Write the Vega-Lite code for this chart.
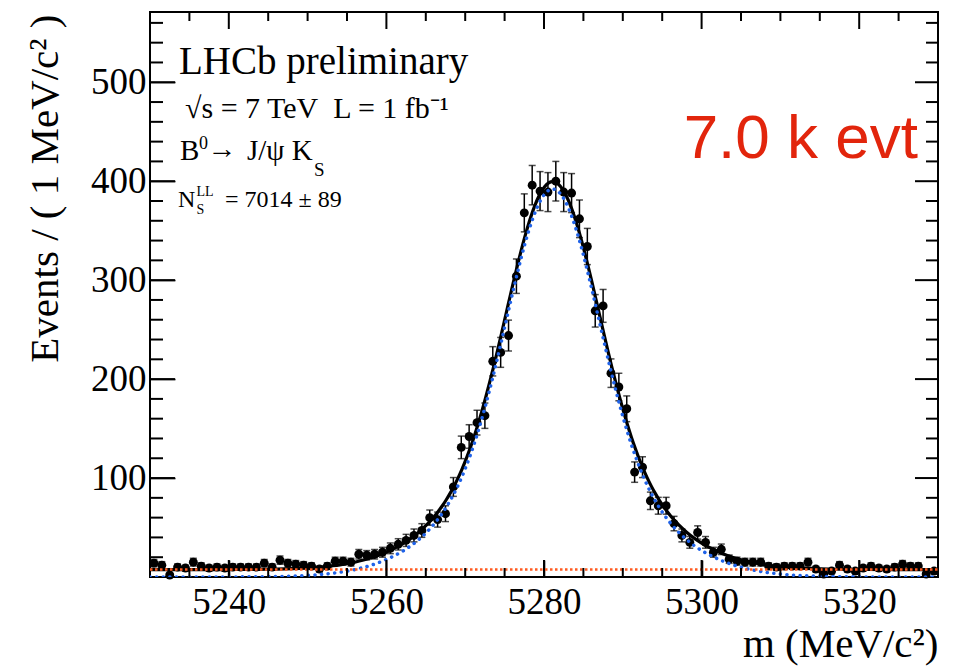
{
  "$schema": "https://vega.github.io/schema/vega-lite/v6.json",
  "width": 788,
  "height": 565,
  "autosize": {"type": "none"},
  "padding": {"left": 150, "top": 12, "right": 15, "bottom": 92},
  "background": "white",
  "config": {
    "view": {"stroke": "black", "strokeWidth": 2},
    "axis": {"ticks": true, "tickColor": "black", "tickOpacity": 1, "tickWidth": 1.6, "domain": false, "grid": false, "zindex": 2}
  },
  "resolve": {"axis": {"x": "independent", "y": "independent"}},
  "datasets": {
    "bins": [
      {"m":5230.5,"n":14,"e":3.7},{"m":5231.5,"n":12,"e":3.5},{"m":5232.5,"n":2,"e":1.4},{"m":5233.5,"n":10,"e":3.2},
      {"m":5234.5,"n":9,"e":3.0},{"m":5235.5,"n":15,"e":3.9},{"m":5236.5,"n":11,"e":3.3},{"m":5237.5,"n":9,"e":3.0},
      {"m":5238.5,"n":10,"e":3.2},{"m":5239.5,"n":9,"e":3.0},{"m":5240.5,"n":10,"e":3.2},{"m":5241.5,"n":10,"e":3.2},
      {"m":5242.5,"n":10,"e":3.2},{"m":5243.5,"n":10,"e":3.2},{"m":5244.5,"n":14,"e":3.7},{"m":5245.5,"n":10,"e":3.2},
      {"m":5246.5,"n":17,"e":4.1},{"m":5247.5,"n":14,"e":3.7},{"m":5248.5,"n":13,"e":3.6},{"m":5249.5,"n":12,"e":3.5},
      {"m":5250.5,"n":11,"e":3.3},{"m":5251.5,"n":8,"e":2.8},{"m":5252.5,"n":11,"e":3.3},{"m":5253.5,"n":16,"e":4.0},
      {"m":5254.5,"n":16,"e":4.0},{"m":5255.5,"n":15,"e":3.9},{"m":5256.5,"n":23,"e":4.8},{"m":5257.5,"n":22,"e":4.7},
      {"m":5258.5,"n":23,"e":4.8},{"m":5259.5,"n":25,"e":5.0},{"m":5260.5,"n":29,"e":5.4},{"m":5261.5,"n":33,"e":5.7},
      {"m":5262.5,"n":37,"e":6.1},{"m":5263.5,"n":42,"e":6.5},{"m":5264.5,"n":47,"e":6.9},{"m":5265.5,"n":60,"e":7.7},
      {"m":5266.5,"n":58,"e":7.6},{"m":5267.5,"n":64,"e":8.0},{"m":5268.5,"n":91,"e":9.5},{"m":5269.5,"n":131,"e":11.4},
      {"m":5270.5,"n":142,"e":11.9},{"m":5271.5,"n":156,"e":12.5},{"m":5272.5,"n":163,"e":12.8},{"m":5273.5,"n":218,"e":14.8},
      {"m":5274.5,"n":227,"e":15.1},{"m":5275.5,"n":244,"e":15.6},{"m":5276.5,"n":304,"e":17.4},{"m":5277.5,"n":368,"e":19.2},
      {"m":5278.5,"n":396,"e":19.9},{"m":5279.5,"n":390,"e":19.7},{"m":5280.5,"n":389,"e":19.7},{"m":5281.5,"n":400,"e":20.0},
      {"m":5282.5,"n":389,"e":19.7},{"m":5283.5,"n":388,"e":19.7},{"m":5284.5,"n":362,"e":19.0},{"m":5285.5,"n":334,"e":18.3},
      {"m":5286.5,"n":269,"e":16.4},{"m":5287.5,"n":274,"e":16.6},{"m":5288.5,"n":206,"e":14.4},{"m":5289.5,"n":192,"e":13.9},
      {"m":5290.5,"n":170,"e":13.0},{"m":5291.5,"n":106,"e":10.3},{"m":5292.5,"n":111,"e":10.5},{"m":5293.5,"n":77,"e":8.8},
      {"m":5294.5,"n":72,"e":8.5},{"m":5295.5,"n":72,"e":8.5},{"m":5296.5,"n":54,"e":7.3},{"m":5297.5,"n":42,"e":6.5},
      {"m":5298.5,"n":35,"e":5.9},{"m":5299.5,"n":45,"e":6.7},{"m":5300.5,"n":35,"e":5.9},{"m":5301.5,"n":25,"e":5.0},
      {"m":5302.5,"n":28,"e":5.3},{"m":5303.5,"n":18,"e":4.2},{"m":5304.5,"n":16,"e":4.0},{"m":5305.5,"n":15,"e":3.9},
      {"m":5306.5,"n":15,"e":3.9},{"m":5307.5,"n":15,"e":3.9},{"m":5308.5,"n":11,"e":3.3},{"m":5309.5,"n":10,"e":3.2},
      {"m":5310.5,"n":11,"e":3.3},{"m":5311.5,"n":11,"e":3.3},{"m":5312.5,"n":11,"e":3.3},{"m":5313.5,"n":15,"e":3.9},
      {"m":5314.5,"n":8,"e":2.8},{"m":5315.5,"n":3,"e":1.7},{"m":5316.5,"n":6,"e":2.4},{"m":5317.5,"n":12,"e":3.5},
      {"m":5318.5,"n":8,"e":2.8},{"m":5319.5,"n":6,"e":2.4},{"m":5320.5,"n":9,"e":3.0},{"m":5321.5,"n":11,"e":3.3},
      {"m":5322.5,"n":9,"e":3.0},{"m":5323.5,"n":8,"e":2.8},{"m":5324.5,"n":10,"e":3.2},{"m":5325.5,"n":13,"e":3.6},
      {"m":5326.5,"n":11,"e":3.3},{"m":5327.5,"n":11,"e":3.3},{"m":5328.5,"n":3,"e":1.7},{"m":5329.5,"n":6,"e":2.4}
    ],
    "curve": [
      {"m":5230.0,"sig":0,"tot":7.5},{"m":5236.1,"sig":0,"tot":7.5},{"m":5241.1,"sig":0.1,"tot":7.6},{"m":5244.1,"sig":0.3,"tot":7.8},
      {"m":5247.1,"sig":0.7,"tot":8.2},{"m":5249.1,"sig":1.3,"tot":8.8},{"m":5251.1,"sig":2.2,"tot":9.7},{"m":5253.1,"sig":3.8,"tot":11.3},
      {"m":5254.1,"sig":4.8,"tot":12.3},{"m":5255.1,"sig":6.1,"tot":13.6},{"m":5256.1,"sig":7.7,"tot":15.2},{"m":5257.1,"sig":9.7,"tot":17.2},
      {"m":5258.1,"sig":12.0,"tot":19.5},{"m":5259.1,"sig":14.8,"tot":22.3},{"m":5260.1,"sig":18.1,"tot":25.6},{"m":5261.1,"sig":21.9,"tot":29.4},
      {"m":5262.1,"sig":26.3,"tot":33.8},{"m":5263.1,"sig":31.5,"tot":39.0},{"m":5264.1,"sig":37.8,"tot":45.3},{"m":5265.1,"sig":45.1,"tot":52.6},
      {"m":5266.1,"sig":54.0,"tot":61.5},{"m":5266.6,"sig":59.0,"tot":66.5},{"m":5267.1,"sig":64.5,"tot":72.0},{"m":5267.6,"sig":70.6,"tot":78.1},
      {"m":5268.1,"sig":77.3,"tot":84.8},{"m":5268.6,"sig":84.6,"tot":92.1},{"m":5269.1,"sig":92.7,"tot":100.2},{"m":5269.6,"sig":101.6,"tot":109.1},
      {"m":5270.1,"sig":111.4,"tot":118.9},{"m":5270.6,"sig":122.1,"tot":129.6},{"m":5271.1,"sig":133.6,"tot":141.1},{"m":5271.6,"sig":146.1,"tot":153.6},
      {"m":5272.1,"sig":159.6,"tot":167.1},{"m":5272.6,"sig":173.9,"tot":181.4},{"m":5273.1,"sig":189.1,"tot":196.6},{"m":5273.6,"sig":204.9,"tot":212.4},
      {"m":5274.1,"sig":221.3,"tot":228.8},{"m":5274.6,"sig":238.3,"tot":245.8},{"m":5275.1,"sig":255.5,"tot":263.0},{"m":5275.6,"sig":272.8,"tot":280.3},
      {"m":5276.1,"sig":289.9,"tot":297.4},{"m":5276.6,"sig":306.4,"tot":313.9},{"m":5277.1,"sig":322.4,"tot":329.9},{"m":5277.6,"sig":337.3,"tot":344.8},
      {"m":5278.1,"sig":350.8,"tot":358.3},{"m":5278.6,"sig":362.8,"tot":370.3},{"m":5279.1,"sig":373.0,"tot":380.5},{"m":5279.6,"sig":381.2,"tot":388.7},
      {"m":5280.1,"sig":387.1,"tot":394.6},{"m":5280.6,"sig":390.8,"tot":398.3},{"m":5281.1,"sig":392.0,"tot":399.5},{"m":5281.6,"sig":390.8,"tot":398.3},
      {"m":5282.1,"sig":387.1,"tot":394.6},{"m":5282.6,"sig":381.2,"tot":388.7},{"m":5283.1,"sig":373.0,"tot":380.5},{"m":5283.6,"sig":362.8,"tot":370.3},
      {"m":5284.1,"sig":350.8,"tot":358.3},{"m":5284.6,"sig":337.3,"tot":344.8},{"m":5285.1,"sig":322.4,"tot":329.9},{"m":5285.6,"sig":306.4,"tot":313.9},
      {"m":5286.1,"sig":289.9,"tot":297.4},{"m":5286.6,"sig":272.8,"tot":280.3},{"m":5287.1,"sig":255.5,"tot":263.0},{"m":5287.6,"sig":238.3,"tot":245.8},
      {"m":5288.1,"sig":221.3,"tot":228.8},{"m":5288.6,"sig":204.9,"tot":212.4},{"m":5289.1,"sig":189.1,"tot":196.6},{"m":5289.6,"sig":173.9,"tot":181.4},
      {"m":5290.1,"sig":159.6,"tot":167.1},{"m":5290.6,"sig":146.1,"tot":153.6},{"m":5291.1,"sig":133.6,"tot":141.1},{"m":5291.6,"sig":122.1,"tot":129.6},
      {"m":5292.1,"sig":111.4,"tot":118.9},{"m":5292.6,"sig":101.6,"tot":109.1},{"m":5293.1,"sig":92.7,"tot":100.2},{"m":5293.6,"sig":84.6,"tot":92.1},
      {"m":5294.1,"sig":77.3,"tot":84.8},{"m":5294.6,"sig":70.6,"tot":78.1},{"m":5295.1,"sig":64.5,"tot":72.0},{"m":5295.6,"sig":59.0,"tot":66.5},
      {"m":5296.1,"sig":54.0,"tot":61.5},{"m":5297.1,"sig":45.1,"tot":52.6},{"m":5298.1,"sig":37.8,"tot":45.3},{"m":5299.1,"sig":31.5,"tot":39.0},
      {"m":5300.1,"sig":26.3,"tot":33.8},{"m":5301.1,"sig":21.9,"tot":29.4},{"m":5302.1,"sig":18.1,"tot":25.6},{"m":5303.1,"sig":14.8,"tot":22.3},
      {"m":5304.1,"sig":12.0,"tot":19.5},{"m":5305.1,"sig":9.7,"tot":17.2},{"m":5306.1,"sig":7.7,"tot":15.2},{"m":5307.1,"sig":6.1,"tot":13.6},
      {"m":5308.1,"sig":4.8,"tot":12.3},{"m":5309.1,"sig":3.8,"tot":11.3},{"m":5311.1,"sig":2.2,"tot":9.7},{"m":5313.1,"sig":1.3,"tot":8.8},
      {"m":5315.1,"sig":0.7,"tot":8.2},{"m":5318.1,"sig":0.3,"tot":7.8},{"m":5321.1,"sig":0.1,"tot":7.6},{"m":5326.1,"sig":0,"tot":7.5},
      {"m":5330.0,"sig":0,"tot":7.5}
    ],
    "bkg": [{"m":5230,"b":7.5},{"m":5330,"b":7.5}],
    "xmaj": [{"v":5240},{"v":5260},{"v":5280},{"v":5300},{"v":5320}],
    "xmin": [{"v":5235},{"v":5245},{"v":5250},{"v":5255},{"v":5265},{"v":5270},{"v":5275},{"v":5285},{"v":5290},{"v":5295},{"v":5305},{"v":5310},{"v":5315},{"v":5325}],
    "ymaj": [{"v":100},{"v":200},{"v":300},{"v":400},{"v":500}],
    "ymin": [{"v":20},{"v":40},{"v":60},{"v":80},{"v":120},{"v":140},{"v":160},{"v":180},{"v":220},{"v":240},{"v":260},{"v":280},{"v":320},{"v":340},{"v":360},{"v":380},{"v":420},{"v":440},{"v":460},{"v":480},{"v":520},{"v":540},{"v":560}],
    "one": [{}]
  },
  "layer": [
    {
      "data": {"name": "bins"},
      "mark": {"type": "errorbar", "ticks": {"size": 7, "thickness": 1.5, "color": "black"}, "rule": {"strokeWidth": 1.5, "color": "black"}, "color": "black"},
      "encoding": {
        "x": {"field": "m", "type": "quantitative", "scale": {"domain": [5230, 5330], "nice": false, "zero": false}, "axis": null},
        "y": {"field": "n", "type": "quantitative", "scale": {"domain": [0, 571], "nice": false, "zero": false}, "axis": null},
        "yError": {"field": "e"}
      }
    },
    {
      "data": {"name": "bins"},
      "mark": {"type": "point", "filled": true, "shape": "circle", "size": 80, "color": "black", "opacity": 1},
      "encoding": {
        "x": {"field": "m", "type": "quantitative",
          "axis": {"orient": "bottom", "offset": -17, "values": [5240, 5260, 5280, 5300, 5320], "format": "d", "ticks": true, "tickSize": 17, "tickColor": "black", "tickWidth": 1.6,
            "labelFont": "Liberation Serif", "labelFontSize": 37, "labelColor": "black", "labelPadding": 7, "labelFlush": false, "labelOverlap": false,
            "title": "m (MeV/c²)", "titleFont": "Liberation Serif", "titleFontSize": 41, "titleFontWeight": "normal", "titleColor": "black",
            "titleAnchor": "end", "titleAlign": "right", "titleX": 788, "titleY": 96, "titleBaseline": "alphabetic"}},
        "y": {"field": "n", "type": "quantitative",
          "axis": {"orient": "left", "offset": -25, "values": [100, 200, 300, 400, 500], "format": "d", "ticks": true, "tickSize": 25, "tickColor": "black", "tickWidth": 1.6,
            "labelFont": "Liberation Serif", "labelFontSize": 37, "labelColor": "black", "labelPadding": 4, "labelFlush": false, "labelOverlap": false,
            "title": "Events / ( 1 MeV/c² )", "titleFont": "Liberation Serif", "titleFontSize": 41, "titleFontWeight": "normal", "titleColor": "black",
            "titleAnchor": "end", "titleAlign": "right", "titleAngle": -90, "titleX": -130, "titleY": 2, "titleBaseline": "middle"}}
      }
    },
    {
      "data": {"name": "curve"},
      "mark": {"type": "line", "color": "black", "strokeWidth": 3.2, "interpolate": "monotone", "clip": true},
      "encoding": {
        "x": {"field": "m", "type": "quantitative", "axis": null},
        "y": {"field": "tot", "type": "quantitative", "axis": null}
      }
    },
    {
      "data": {"name": "curve"},
      "mark": {"type": "line", "color": "#1f62e8", "strokeWidth": 3.5, "strokeDash": [0.1, 6.5], "strokeCap": "round", "interpolate": "monotone", "clip": true},
      "encoding": {
        "x": {"field": "m", "type": "quantitative", "axis": null},
        "y": {"field": "sig", "type": "quantitative", "axis": null}
      }
    },
    {
      "data": {"name": "bkg"},
      "mark": {"type": "line", "color": "#ff5a1f", "strokeWidth": 2.5, "strokeDash": [2.5, 2.5], "clip": true},
      "encoding": {
        "x": {"field": "m", "type": "quantitative", "axis": null},
        "y": {"field": "b", "type": "quantitative", "axis": null}
      }
    },
    {
      "data": {"name": "xmaj"},
      "mark": {"type": "rule", "color": "black", "strokeWidth": 2},
      "encoding": {"x": {"field": "v", "type": "quantitative", "axis": null}, "y": {"datum": 0, "type": "quantitative", "axis": null}, "y2": {"datum": 17.2}}
    },
    {
      "data": {"name": "xmaj"},
      "mark": {"type": "rule", "color": "black", "strokeWidth": 2},
      "encoding": {"x": {"field": "v", "type": "quantitative", "axis": null}, "y": {"datum": 571, "type": "quantitative", "axis": null}, "y2": {"datum": 553.8}}
    },
    {
      "data": {"name": "xmin"},
      "mark": {"type": "rule", "color": "black", "strokeWidth": 2},
      "encoding": {"x": {"field": "v", "type": "quantitative", "axis": null}, "y": {"datum": 0, "type": "quantitative", "axis": null}, "y2": {"datum": 9.1}}
    },
    {
      "data": {"name": "xmin"},
      "mark": {"type": "rule", "color": "black", "strokeWidth": 2},
      "encoding": {"x": {"field": "v", "type": "quantitative", "axis": null}, "y": {"datum": 571, "type": "quantitative", "axis": null}, "y2": {"datum": 561.9}}
    },
    {
      "data": {"name": "ymaj"},
      "mark": {"type": "rule", "color": "black", "strokeWidth": 2},
      "encoding": {"y": {"field": "v", "type": "quantitative", "axis": null}, "x": {"datum": 5230, "type": "quantitative", "axis": null}, "x2": {"datum": 5233.17}}
    },
    {
      "data": {"name": "ymaj"},
      "mark": {"type": "rule", "color": "black", "strokeWidth": 2},
      "encoding": {"y": {"field": "v", "type": "quantitative", "axis": null}, "x": {"datum": 5330, "type": "quantitative", "axis": null}, "x2": {"datum": 5327.08}}
    },
    {
      "data": {"name": "ymin"},
      "mark": {"type": "rule", "color": "black", "strokeWidth": 2},
      "encoding": {"y": {"field": "v", "type": "quantitative", "axis": null}, "x": {"datum": 5230, "type": "quantitative", "axis": null}, "x2": {"datum": 5231.65}}
    },
    {
      "data": {"name": "ymin"},
      "mark": {"type": "rule", "color": "black", "strokeWidth": 2},
      "encoding": {"y": {"field": "v", "type": "quantitative", "axis": null}, "x": {"datum": 5330, "type": "quantitative", "axis": null}, "x2": {"datum": 5328.48}}
    },
    {
      "data": {"name": "one"},
      "mark": {"type": "text", "font": "Liberation Serif", "fontSize": 39, "align": "left", "baseline": "alphabetic", "color": "black"},
      "encoding": {"x": {"datum": 5233.68, "axis": null}, "y": {"datum": 508.3, "axis": null}, "text": {"value": "LHCb preliminary"}}
    },
    {
      "data": {"name": "one"},
      "mark": {"type": "text", "font": "Liberation Serif", "fontSize": 30, "align": "left", "baseline": "alphabetic", "color": "black"},
      "encoding": {"x": {"datum": 5234.44, "axis": null}, "y": {"datum": 463.9, "axis": null}, "text": {"value": "√s = 7 TeV\u00a0\u00a0L = 1 fb⁻¹"}}
    },
    {
      "data": {"name": "one"},
      "mark": {"type": "text", "font": "Liberation Serif", "fontSize": 29, "align": "left", "baseline": "alphabetic", "color": "black"},
      "encoding": {"x": {"datum": 5233.81, "axis": null}, "y": {"datum": 421.4, "axis": null}, "text": {"value": "B"}}
    },
    {
      "data": {"name": "one"},
      "mark": {"type": "text", "font": "Liberation Serif", "fontSize": 18, "align": "left", "baseline": "alphabetic", "color": "black"},
      "encoding": {"x": {"datum": 5236.22, "axis": null}, "y": {"datum": 432.5, "axis": null}, "text": {"value": "0"}}
    },
    {
      "data": {"name": "one"},
      "mark": {"type": "text", "font": "Liberation Serif", "fontSize": 29, "align": "left", "baseline": "alphabetic", "color": "black"},
      "encoding": {"x": {"datum": 5237.3, "axis": null}, "y": {"datum": 423.4, "axis": null}, "text": {"value": "→"}}
    },
    {
      "data": {"name": "one"},
      "mark": {"type": "text", "font": "Liberation Serif", "fontSize": 29, "align": "left", "baseline": "alphabetic", "color": "black"},
      "encoding": {"x": {"datum": 5242.31, "axis": null}, "y": {"datum": 421.4, "axis": null}, "text": {"value": "J/ψ K"}}
    },
    {
      "data": {"name": "one"},
      "mark": {"type": "text", "font": "Liberation Serif", "fontSize": 19, "align": "left", "baseline": "alphabetic", "color": "black"},
      "encoding": {"x": {"datum": 5250.81, "axis": null}, "y": {"datum": 405.3, "axis": null}, "text": {"value": "S"}}
    },
    {
      "data": {"name": "one"},
      "mark": {"type": "text", "font": "Liberation Serif", "fontSize": 24, "align": "left", "baseline": "alphabetic", "color": "black"},
      "encoding": {"x": {"datum": 5233.55, "axis": null}, "y": {"datum": 373.9, "axis": null}, "text": {"value": "N"}}
    },
    {
      "data": {"name": "one"},
      "mark": {"type": "text", "font": "Liberation Serif", "fontSize": 14, "align": "left", "baseline": "alphabetic", "color": "black"},
      "encoding": {"x": {"datum": 5235.9, "axis": null}, "y": {"datum": 385.5, "axis": null}, "text": {"value": "LL"}}
    },
    {
      "data": {"name": "one"},
      "mark": {"type": "text", "font": "Liberation Serif", "fontSize": 14, "align": "left", "baseline": "alphabetic", "color": "black"},
      "encoding": {"x": {"datum": 5235.9, "axis": null}, "y": {"datum": 366.9, "axis": null}, "text": {"value": "S"}}
    },
    {
      "data": {"name": "one"},
      "mark": {"type": "text", "font": "Liberation Serif", "fontSize": 24, "align": "left", "baseline": "alphabetic", "color": "black"},
      "encoding": {"x": {"datum": 5239.52, "axis": null}, "y": {"datum": 373.9, "axis": null}, "text": {"value": "= 7014 ± 89"}}
    },
    {
      "data": {"name": "one"},
      "mark": {"type": "text", "font": "Liberation Sans", "fontSize": 62, "align": "right", "baseline": "alphabetic", "color": "#e2250c"},
      "encoding": {"x": {"datum": 5327.46, "axis": null}, "y": {"datum": 423.4, "axis": null}, "text": {"value": "7.0 k evt"}}
    }
  ]
}
